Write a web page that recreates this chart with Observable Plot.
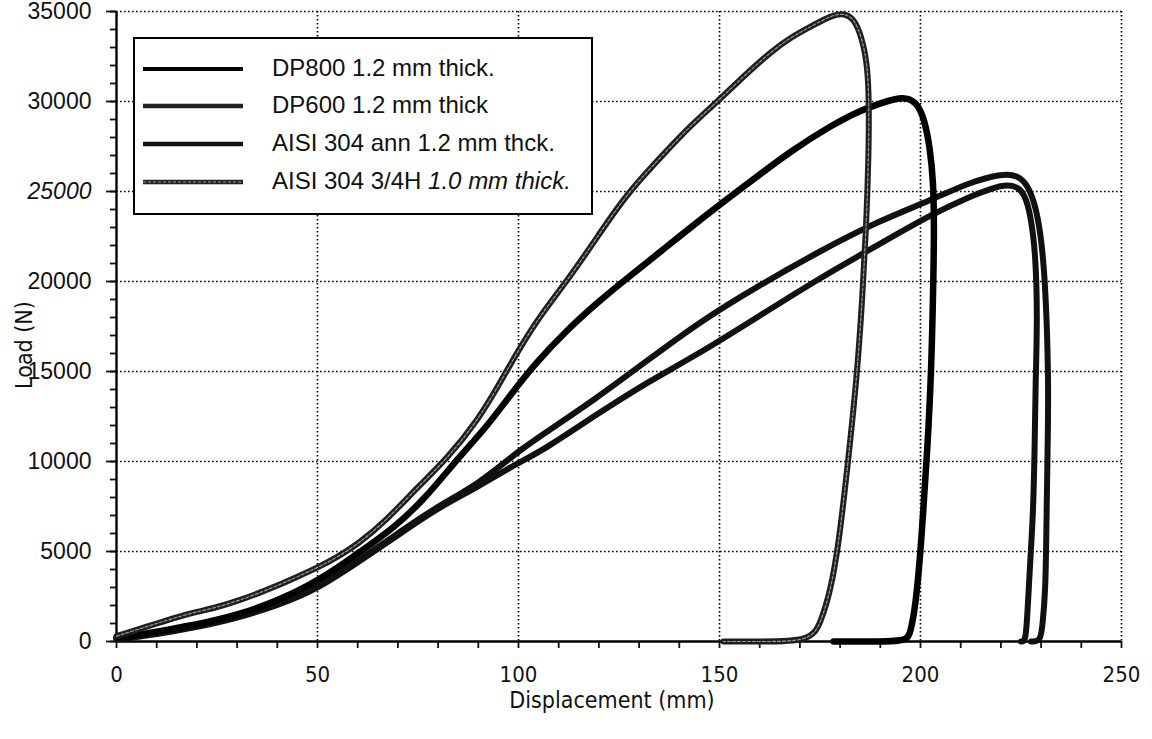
<!DOCTYPE html>
<html>
<head>
<meta charset="utf-8">
<script src="https://cdn.jsdelivr.net/npm/d3@7"></script>
<script src="https://cdn.jsdelivr.net/npm/@observablehq/plot@0.6"></script>
<style>
  html, body { margin: 0; padding: 0; background: #fff; }
  #wrap { position: relative; width: 1152px; height: 739px; }
  #legend { position: absolute; left: 133px; top: 37px; width: 456px; height: 174px;
            border: 2px solid #000; background: #fff; font-family: "Liberation Sans", Arial, sans-serif; font-size: 24px; color: #111; }
  .row { position: absolute; left: 0; height: 30px; width: 100%; }
  .row svg { position: absolute; left: 8px; top: 0; }
  .row span { position: absolute; left: 137px; top: 0; line-height: 30px; white-space: nowrap; }
</style>
</head>
<body>
<div id="wrap"></div>
<script>
// ---- data ----
const seriesNames = ["DP800 1.2 mm thick.", "DP600 1.2 mm thick", "AISI 304 ann 1.2 mm thck.", "AISI 304 3/4H 1.0 mm thick."];

const dp800X = [0, 5, 10, 15, 20, 25, 30, 35, 40, 45, 50, 55, 60, 69, 77, 85, 92, 98, 104, 112, 120, 126, 135, 145, 155, 168, 178, 185, 190, 195.5, 199, 201, 202.3, 203.2, 203.4, 203.2, 202.7, 201.7, 200.6, 200, 198.8, 197.5, 196.6, 188, 178.4];
const dp800Y = [200, 350, 550, 750, 950, 1200, 1500, 1850, 2300, 2800, 3400, 4100, 4900, 6300, 8000, 10200, 11900, 13700, 15400, 17300, 18900, 20000, 21600, 23400, 25100, 27300, 28700, 29500, 29900, 30300, 30000, 29000, 27500, 25600, 23000, 20000, 15000, 10600, 7000, 5000, 2000, 500, 0, 0, 0];

const dp600X = [0, 10, 20, 30, 40, 50, 62, 70, 79, 90, 100, 106, 120, 132, 145, 160, 175, 190, 202.5, 212, 218, 221.6, 224.9, 226.4, 227.4, 228.6, 229.1, 228.6, 228.4, 228, 227.3, 226.9, 226.4, 226, 225];
const dp600Y = [100, 400, 800, 1300, 2000, 2900, 4700, 5900, 7300, 8600, 9950, 10600, 12700, 14400, 16000, 18100, 20200, 22100, 23700, 24700, 25200, 25400, 25200, 24500, 23600, 21700, 18000, 14300, 10600, 7000, 4500, 2800, 800, 0, 0];

const ann304X = [0, 10, 20, 30, 40, 50, 62, 70, 79, 90.5, 100, 108, 118.7, 132, 145.3, 160, 175, 190, 202.5, 212, 220.6, 224, 226.6, 228.5, 229.9, 231.1, 231.9, 231.6, 231.3, 231.1, 230.3, 229.8, 227.5];
const ann304Y = [150, 450, 900, 1400, 2100, 3000, 4800, 6000, 7400, 8800, 10600, 11800, 13400, 15600, 17800, 19800, 21700, 23400, 24500, 25500, 26000, 25900, 25400, 24300, 22700, 19900, 14300, 10600, 6000, 2800, 780, 0, 0];

const h304X = [0, 5, 10, 15, 20, 25, 30, 35, 40, 45, 50, 55, 60, 67, 75, 82, 90, 96, 100, 106, 112, 120, 127, 137, 143, 149.5, 156, 163, 168, 173, 178, 181, 183.5, 185.5, 186.8, 187.2, 187.1, 186.5, 185.5, 184.3, 182, 179.6, 177.6, 175.1, 172.6, 160, 151];
const h304Y = [300, 650, 1000, 1350, 1650, 1900, 2250, 2650, 3100, 3600, 4100, 4700, 5400, 6700, 8600, 10100, 12300, 14600, 16200, 18300, 20000, 22600, 24900, 27300, 28700, 30000, 31400, 32800, 33600, 34200, 34800, 34900, 34600, 33500, 32000, 30000, 27000, 23000, 19000, 15000, 10000, 5300, 2800, 1000, 0, 0, 0];

const xMajor = [0, 50, 100, 150, 200, 250];
const yMajor = [0, 5000, 10000, 15000, 20000, 25000, 30000, 35000];
const xMinor = d3.range(0, 251, 10);
const yMinor = d3.range(0, 35001, 1000);

// ---- build table ----
function toRows(name, xs, ys) { return xs.map((x, i) => ({series: name, x, y: ys[i]})); }
const dp800 = toRows(seriesNames[0], dp800X, dp800Y);
const dp600 = toRows(seriesNames[1], dp600X, dp600Y);
const ann304 = toRows(seriesNames[2], ann304X, ann304Y);
const h304 = toRows(seriesNames[3], h304X, h304Y);

const tickFont = "'Liberation Sans', Arial, sans-serif";
const narrowFont = "'Liberation Sans Narrow', 'DejaVu Sans Condensed', 'Roboto Condensed', 'Liberation Sans', Arial, sans-serif";

const chart = Plot.plot({
  width: 1152,
  height: 739,
  marginLeft: 116,
  marginRight: 31,
  marginTop: 11,
  marginBottom: 98,
  style: {fontFamily: tickFont, fontSize: "22px", color: "#111", background: "#fff", overflow: "visible"},
  x: {domain: [0, 250]},
  y: {domain: [0, 35000]},
  marks: [
    Plot.gridX(xMajor.filter(d => d > 0), {stroke: "#000", strokeOpacity: 1, strokeWidth: 1.7, strokeDasharray: "1.6,2.4"}),
    Plot.gridY(yMajor.filter(d => d > 0), {stroke: "#000", strokeOpacity: 1, strokeWidth: 1.7, strokeDasharray: "1.6,2.4"}),
    Plot.axisX(xMinor, {tickSize: 7, tickFormat: () => "", strokeWidth: 1.8, label: null}),
    Plot.axisX(xMajor, {tickSize: 0, tickPadding: 25, fontSize: 22, fontFamily: narrowFont, label: null}),
    Plot.axisY(yMinor, {tickSize: 6, tickFormat: () => "", strokeWidth: 1.8, label: null}),
    Plot.axisY(yMajor, {tickSize: 10, tickPadding: 15, fontSize: 23, tickFormat: d => String(d), strokeWidth: 1.8, label: null}),
    Plot.ruleY([0], {stroke: "#000", strokeWidth: 2.4}),
    Plot.ruleX([0], {stroke: "#000", strokeWidth: 2.4}),
    Plot.line(dp600, {x: "x", y: "y", stroke: "#111", strokeWidth: 6, curve: "basis"}),
    Plot.line(ann304, {x: "x", y: "y", stroke: "#111", strokeWidth: 6, curve: "basis"}),
    Plot.line(dp800, {x: "x", y: "y", stroke: "#000", strokeWidth: 6.5, curve: "basis"}),
    Plot.line(h304, {x: "x", y: "y", stroke: "#1e1e1e", strokeWidth: 6, curve: "basis"}),
    Plot.line(h304, {x: "x", y: "y", stroke: "#9a9a9a", strokeWidth: 1.2, strokeDasharray: "3,2", curve: "basis"})
  ]
});

const wrap = document.getElementById("wrap");
wrap.appendChild(chart);

const svg = d3.select(chart);
// italic "25000" as in the original print
svg.selectAll("text").filter(function() { return this.textContent === "25000"; }).attr("font-style", "italic");

// axis titles
svg.append("text")
  .attr("x", 612).attr("y", 708)
  .attr("text-anchor", "middle")
  .attr("font-family", narrowFont).attr("font-size", 23).attr("fill", "#111")
  .text("Displacement (mm)");
svg.append("text")
  .attr("transform", "translate(32,345) rotate(-90)")
  .attr("text-anchor", "middle")
  .attr("font-family", narrowFont).attr("font-size", 23).attr("fill", "#111")
  .text("Load (N)");

// legend (overlay box inside the plot area)
const legend = document.createElement("div");
legend.id = "legend";
wrap.appendChild(legend);
const rowTops = [14, 51, 89, 127];
const swatch = [
  [{c: "#000", w: 4}],
  [{c: "#222", w: 4.5}],
  [{c: "#111", w: 4.5}],
  [{c: "#222", w: 4.5}, {c: "#9a9a9a", w: 1.2, d: "3,2"}]
];
seriesNames.forEach((name, i) => {
  const row = document.createElement("div");
  row.className = "row";
  row.style.top = rowTops[i] + "px";
  const s = d3.create("svg").attr("width", 104).attr("height", 30);
  swatch[i].forEach(st => s.append("line").attr("x1", 0).attr("x2", 100).attr("y1", 16).attr("y2", 16)
    .attr("stroke", st.c).attr("stroke-width", st.w).attr("stroke-dasharray", st.d || null));
  row.appendChild(s.node());
  const span = document.createElement("span");
  const k = name.indexOf("1.0 mm thick.");
  if (k >= 0) {
    span.appendChild(document.createTextNode(name.slice(0, k)));
    const it = document.createElement("i");
    it.textContent = name.slice(k);
    span.appendChild(it);
  } else {
    span.textContent = name;
  }
  row.appendChild(span);
  legend.appendChild(row);
});
</script>
</body>
</html>
